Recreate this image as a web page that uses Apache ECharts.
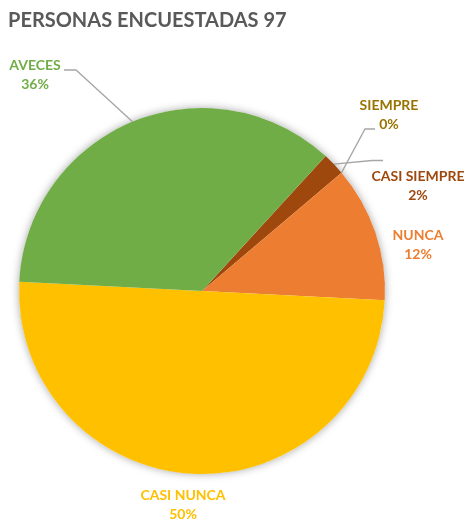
<!DOCTYPE html>
<html>
<head>
<meta charset="utf-8">
<script src="https://cdn.jsdelivr.net/npm/echarts@6/dist/echarts.min.js"></script>
<style>
  html, body { margin: 0; padding: 0; background: #ffffff; }
  #chart { width: 465px; height: 524px; }
</style>
</head>
<body>
<div id="chart"></div>
<script>
// ---- data ----
var titleText = 'PERSONAS ENCUESTADAS 97';
var categories = ['CASI SIEMPRE', 'SIEMPRE', 'NUNCA', 'CASI NUNCA', 'AVECES'];
var percentages = [2, 0, 12, 50, 36];
var colors = ['#9E480E', '#997300', '#ED7D31', '#FFC000', '#70AD47'];

// ---- label layout (positions of label blocks and leader line bends) ----
var labelPlacement = {
  'CASI SIEMPRE': { x: 418, y: 186, line: true, bend: [372, 160.5], end: [383, 160.5] },
  'SIEMPRE':      { x: 389, y: 115, line: true, bend: [365, 129], end: [375, 129] },
  'NUNCA':        { x: 418, y: 245, line: false },
  'CASI NUNCA':   { x: 183, y: 505, line: false },
  'AVECES':       { x: 35,  y: 75,  line: true, bend: [76, 70], end: [64, 70] }
};

var pieCenter = [202, 291];
var pieRadius = 183;

var chart = echarts.init(document.getElementById('chart'), null, { renderer: 'canvas' });

var seriesData = categories.map(function (name, i) {
  return {
    name: name,
    value: percentages[i],
    itemStyle: { color: colors[i] },
    label: { color: colors[i] },
    labelLine: { show: labelPlacement[name].line }
  };
});

var option = {
  animation: false,
  backgroundColor: '#ffffff',
  title: {
    text: titleText,
    left: 3,
    top: 6,
    textStyle: {
      fontFamily: 'Lato',
      fontWeight: 'bold',
      fontSize: 20,
      color: '#595959'
    }
  },
  series: [
    {
      // soft drop shadow behind the pie (decorative)
      type: 'pie',
      silent: true,
      z: 1,
      center: pieCenter,
      radius: pieRadius,
      label: { show: false },
      labelLine: { show: false },
      itemStyle: {
        color: '#ffffff',
        shadowBlur: 9,
        shadowColor: 'rgba(0,0,0,0.35)'
      },
      data: [{ name: 'shadow', value: 1 }]
    },
    {
      type: 'pie',
      z: 2,
      center: pieCenter,
      radius: pieRadius,
      startAngle: 47.5,
      clockwise: true,
      avoidLabelOverlap: false,
      percentPrecision: 0,
      itemStyle: { borderWidth: 0 },
      label: {
        show: true,
        position: 'outside',
        formatter: '{b}\n{d}%',
        fontFamily: 'Lato',
        fontWeight: 'bold',
        fontSize: 14,
        lineHeight: 19,
        align: 'center'
      },
      labelLine: {
        show: true,
        length: 20,
        length2: 10,
        lineStyle: { color: '#A6A6A6', width: 1.3 }
      },
      labelLayout: function (params) {
        var name = categories[params.dataIndex];
        var p = labelPlacement[name];
        var res = { x: p.x, y: p.y, align: 'center', verticalAlign: 'middle' };
        if (p.line && params.labelLinePoints) {
          var anchor = params.labelLinePoints[0];
          res.labelLinePoints = [anchor, p.bend, p.end];
        }
        return res;
      },
      data: seriesData
    }
  ]
};

chart.setOption(option);
</script>
</body>
</html>
